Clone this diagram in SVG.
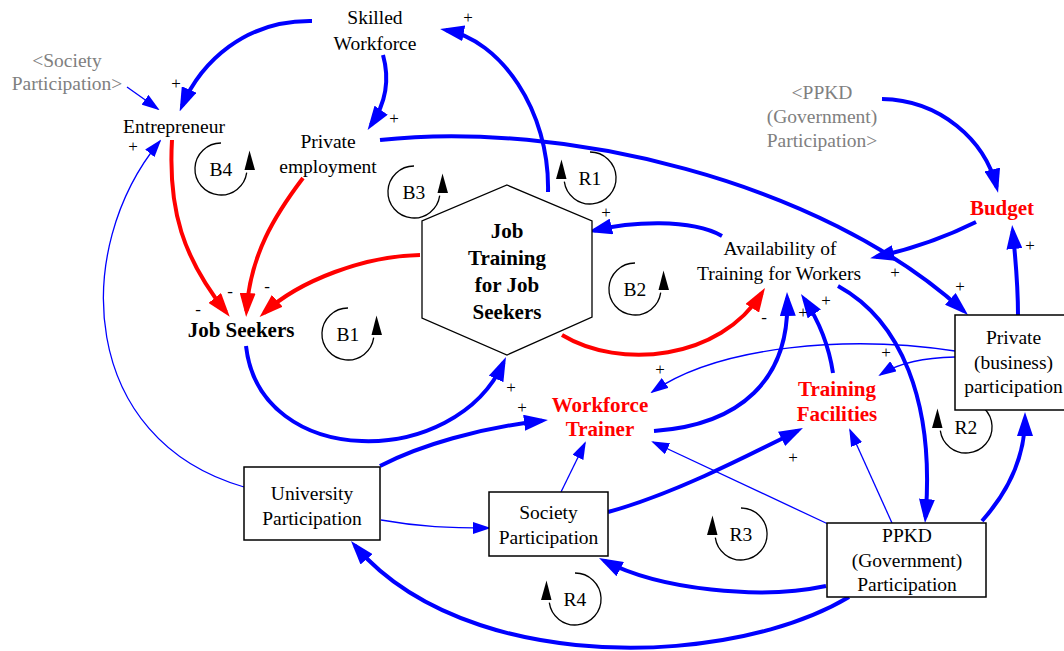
<svg xmlns="http://www.w3.org/2000/svg" width="1064" height="651" viewBox="0 0 1064 651">
<style>
text{font-family:"Liberation Serif","Times New Roman",serif;font-size:19.5px;fill:#000;text-anchor:middle}
.b{font-weight:bold;font-size:21px}
.red{fill:#ff0000}
.gray{fill:#808080}
.sign{font-size:17px}
.thick{fill:none;stroke:#0000ff;stroke-width:4;marker-end:url(#ab)}
.thin{fill:none;stroke:#0000ff;stroke-width:1.3;marker-end:url(#at)}
.redl{fill:none;stroke:#ff0000;stroke-width:4;marker-end:url(#ar)}
.box{fill:#fff;stroke:#000;stroke-width:1.5}
.loop{fill:none;stroke:#000;stroke-width:1.3}
</style>
<defs>
<marker id="ab" markerUnits="userSpaceOnUse" markerWidth="24" markerHeight="16" viewBox="0 0 24 16" refX="18" refY="8" orient="auto"><path d="M0,0 L24,8 L0,16 z" fill="#0000ff"/></marker>
<marker id="ar" markerUnits="userSpaceOnUse" markerWidth="24" markerHeight="16" viewBox="0 0 24 16" refX="18" refY="8" orient="auto"><path d="M0,0 L24,8 L0,16 z" fill="#ff0000"/></marker>
<marker id="at" markerUnits="userSpaceOnUse" markerWidth="18" markerHeight="12" viewBox="0 0 18 12" refX="16" refY="6" orient="auto"><path d="M0,0 L18,6 L0,12 z" fill="#0000ff"/></marker>
<g id="loopsym"><path class="loop" d="M0,-26 A26,26 0 1 0 25.7,3.6"/><polygon points="28.5,-18.5 23.5,1 34,1" fill="#000"/></g>
</defs>
<rect width="1064" height="651" fill="#fff"/>

<g id="connectors">
<path class="thick" d="M312,21 C245,20 201,62 182,106"/>
<path class="thick" d="M383,55 C390,80 386,103 371,125"/>
<path class="thin" d="M127,87 L158,109"/>
<path class="redl" d="M172,140 C168,210 183,258 226,312"/>
<path class="redl" d="M303,178 C275,215 250,255 246.5,311"/>
<path class="redl" d="M420,255 C365,256 300,280 264,313"/>
<path class="thick" d="M246,346 C260,470 455,470 503.5,362.5"/>
<path class="thick" d="M548,192 C550,110 500,40 446,30"/>
<path class="thick" d="M380,140 C560,120 820,180 963.6,311"/>
<path class="thick" d="M882,99 C940,100 985,140 996.6,187"/>
<path class="thick" d="M976,222 Q930,245 876,257"/>
<path class="thick" d="M1018,315 C1018,280 1015,255 1012.7,231"/>
<path class="thick" d="M722,236 C690,218 630,222 594,230.6"/>
<path class="redl" d="M562,335 C620,370 720,360 761.8,293"/>
<path class="thick" d="M654,431 C740,425 790,380 787.2,298"/>
<path class="thick" d="M833,373 C828,340 815,315 804.3,299"/>
<path class="thick" d="M838,286 C900,320 935,400 925.5,517"/>
<path class="thick" d="M982,521 C1005,495 1025,460 1025,418"/>
<path class="thick" d="M826,586 C760,600 660,590 604.3,560.8"/>
<path class="thick" d="M849,597 C760,650 600,665 480,625 C420,605 380,575 354.9,545.6"/>
<path class="thin" d="M244,487 C80,440 70,250 160,141"/>
<path class="thick" d="M380,466 C420,445 480,428 542,420.7"/>
<path class="thin" d="M381,520 C420,527 450,528 489,528"/>
<path class="thin" d="M561,492 L585,443"/>
<path class="thick" d="M608,512 C670,495 740,460 797.6,430.7"/>
<path class="thin" d="M828,524 L653,442"/>
<path class="thin" d="M892,523 L850,430"/>
<path class="thin" d="M955,351 C850,335 720,345 652,392"/>
<path class="thin" d="M955,357 C925,358 900,362 880,375"/>
</g>

<g id="signs">
<text class="sign" x="468" y="23">+</text>
<text class="sign" x="176" y="89">+</text>
<text class="sign" x="394" y="124">+</text>
<text class="sign" x="133" y="152">+</text>
<text class="sign" x="606" y="218">+</text>
<text class="sign" x="1030" y="251">+</text>
<text class="sign" x="895" y="278">+</text>
<text class="sign" x="960" y="292">+</text>
<text class="sign" x="826" y="306">+</text>
<text class="sign" x="803" y="318">+</text>
<text class="sign" x="886" y="358">+</text>
<text class="sign" x="660" y="375">+</text>
<text class="sign" x="511" y="393">+</text>
<text class="sign" x="522" y="413">+</text>
<text class="sign" x="793" y="463">+</text>
<text class="sign" x="198" y="315">-</text>
<text class="sign" x="230" y="297">-</text>
<text class="sign" x="267" y="292">-</text>
<text class="sign" x="764" y="323">-</text>
</g>

<g id="loops">
<use href="#loopsym" transform="translate(221,169)"/><text x="221" y="176">B4</text>
<use href="#loopsym" transform="translate(414,192)"/><text x="414" y="199">B3</text>
<use href="#loopsym" transform="translate(348,334)"/><text x="348" y="341">B1</text>
<use href="#loopsym" transform="translate(635,289)"/><text x="635" y="296">B2</text>
<use href="#loopsym" transform="translate(590,178) scale(-1,1)"/><text x="590" y="185">R1</text>
<use href="#loopsym" transform="translate(966,427) scale(-1,1)"/><text x="966" y="434">R2</text>
<use href="#loopsym" transform="translate(741,534) scale(-1,1)"/><text x="741" y="541">R3</text>
<use href="#loopsym" transform="translate(575,599) scale(-1,1)"/><text x="575" y="606">R4</text>
</g>

<g id="skilled-workforce"><text x="375" y="24">Skilled</text><text x="375" y="50">Workforce</text></g>
<g id="society-shadow"><text class="gray" x="67" y="67">&lt;Society</text><text class="gray" x="67" y="90">Participation&gt;</text></g>
<g id="entrepreneur"><text x="174" y="133">Entrepreneur</text></g>
<g id="private-employment"><text x="328" y="148">Private</text><text x="328" y="173">employment</text></g>
<g id="ppkd-shadow"><text class="gray" x="822" y="99">&lt;PPKD</text><text class="gray" x="822" y="123">(Government)</text><text class="gray" x="822" y="147">Participation&gt;</text></g>
<g id="budget"><text class="b red" x="1002" y="215">Budget</text></g>
<g id="job-training"><polygon points="507,185 592,221 592,317 507,355 422,318 422,221" fill="#fff" stroke="#000" stroke-width="1.3"/>
<text class="b" x="507" y="238">Job</text><text class="b" x="507" y="265">Training</text><text class="b" x="507" y="292">for Job</text><text class="b" x="507" y="319">Seekers</text></g>
<g id="job-seekers"><text class="b" x="241" y="337">Job Seekers</text></g>
<g id="availability"><text x="780" y="255">Availability of</text><text x="779" y="280">Training for Workers</text></g>
<g id="workforce-trainer"><text class="b red" x="600" y="412">Workforce</text><text class="b red" x="600" y="436">Trainer</text></g>
<g id="training-facilities"><text class="b red" x="837" y="396">Training</text><text class="b red" x="837" y="421">Facilities</text></g>
<g id="private-participation"><rect class="box" x="955" y="315" width="120" height="95"/><text x="1013.5" y="344">Private</text><text x="1013.5" y="369">(business)</text><text x="1013.5" y="393">participation</text></g>
<g id="university"><rect class="box" x="244" y="467" width="136" height="73"/><text x="312" y="500">University</text><text x="312" y="525">Participation</text></g>
<g id="society"><rect class="box" x="489" y="492" width="119" height="64"/><text x="548.5" y="519">Society</text><text x="548.5" y="544">Participation</text></g>
<g id="ppkd"><rect class="box" x="827" y="523" width="159" height="74"/><text x="907" y="542">PPKD</text><text x="907" y="567">(Government)</text><text x="907" y="591">Participation</text></g>
</svg>
